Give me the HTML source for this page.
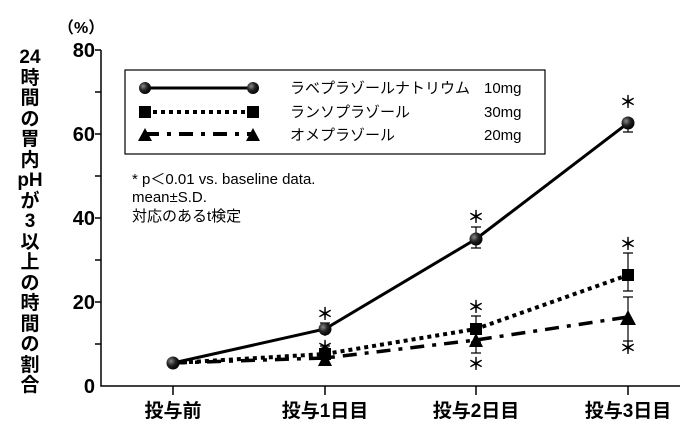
<!DOCTYPE html>
<html><head><meta charset="utf-8"><style>
body{margin:0;background:#fff;}
svg text{font-family:"Liberation Sans","Noto Sans CJK JP",sans-serif;font-weight:bold;fill:#000}
</style></head><body>
<svg width="691" height="432" viewBox="0 0 691 432" xmlns="http://www.w3.org/2000/svg">
<defs>
<radialGradient id="g" cx="0.35" cy="0.35" r="0.7"><stop offset="0" stop-color="#888"/><stop offset="0.5" stop-color="#222"/><stop offset="1" stop-color="#000"/></radialGradient>
</defs>
<g font-size="19" text-anchor="middle">
<text x="30" y="63">24</text><text x="30" y="84">時</text><text x="30" y="104">間</text><text x="30" y="125">の</text><text x="30" y="145">胃</text><text x="30" y="166">内</text><text x="30" y="186">pH</text><text x="30" y="207">が</text><text x="30" y="227">3</text><text x="30" y="248">以</text><text x="30" y="268">上</text><text x="30" y="289">の</text><text x="30" y="309">時</text><text x="30" y="330">間</text><text x="30" y="350">の</text><text x="30" y="371">割</text><text x="30" y="391">合</text>
</g>
<text x="58" y="33" font-size="16">（%）</text>
<g font-size="20" text-anchor="end">
<text x="95" y="57">80</text><text x="95" y="141">60</text><text x="95" y="225">40</text><text x="95" y="309">20</text><text x="95" y="393">0</text>
</g>
<g stroke="#000" stroke-width="1.5" fill="none">
<path d="M101,50V386H680"/>
<path d="M101,50h-6M101,92h-6M101,134h-6M101,176h-6M101,218h-6M101,260h-6M101,302h-6M101,344h-6"/>
<path d="M173,386v9M325,386v9M476,386v9M628,386v9"/>
</g>
<g font-size="19" text-anchor="middle">
<text x="173" y="417">投与前</text><text x="325" y="417">投与1日目</text><text x="476" y="417">投与2日目</text><text x="628" y="417">投与3日目</text>
</g>
<rect x="125" y="70" width="420" height="84" fill="none" stroke="#000" stroke-width="1.2"/>
<line x1="145" y1="88" x2="253" y2="88" stroke="#000" stroke-width="3"/>
<circle cx="145" cy="88" r="6" fill="url(#g)"/><circle cx="253" cy="88" r="6" fill="url(#g)"/>
<line x1="145" y1="112" x2="253" y2="112" stroke="#000" stroke-width="4" stroke-dasharray="4,4"/>
<rect x="139" y="106" width="12" height="12"/><rect x="247" y="106" width="12" height="12"/>
<line x1="145" y1="134" x2="253" y2="134" stroke="#000" stroke-width="4" stroke-dasharray="14,8,4,8"/>
<path d="M138,141l7,-13l7,13z M246,141l7,-13l7,13z"/>
<g font-size="15">
<text x="290" y="93" style="font-weight:normal">ラベプラゾールナトリウム</text>
<text x="290" y="117" style="font-weight:normal">ランソプラゾール</text>
<text x="290" y="140" style="font-weight:normal">オメプラゾール</text>
<text x="484" y="93" style="font-weight:normal">10mg</text>
<text x="484" y="117" style="font-weight:normal">30mg</text>
<text x="484" y="140" style="font-weight:normal">20mg</text>
</g>
<g font-size="15">
<text x="132" y="184" style="font-weight:normal">* p＜0.01 vs. baseline data.</text>
<text x="132" y="202" style="font-weight:normal">mean±S.D.</text>
<text x="132" y="221" style="font-weight:normal">対応のあるt検定</text>
</g>
<g stroke="#000" stroke-width="1.2">
<path d="M325,336v-13m-5,0h10M476,248v-21m-5,0h10m-5,21M471,248h10M628,132v-13m-5,0h10m-5,13M623,132h10"/>
<path d="M325,355v-9m-5,0h10M476,328v-12m-5,0h10m-5,12v14m-5,0h10M628,275v-22m-5,0h10m-5,22v16m-5,0h10"/>
<path d="M628,317v-20m-5,0h10m-5,20v24m-5,0h10M476,340v13m-5,0h10"/>
</g>
<polyline points="173,363 325,358 476,340 628,317" fill="none" stroke="#000" stroke-width="3.5" stroke-dasharray="14,8,4,8"/>
<polyline points="173,363 325,354 476,329 628,275" fill="none" stroke="#000" stroke-width="4" stroke-dasharray="4,4"/>
<polyline points="173,363 325,329 476,239 628,123" fill="none" stroke="#000" stroke-width="3"/>
<path d="M318,366l7,-14l7,14zM469,347l7,-14l7,14zM620,325l8,-15l8,15z"/>
<rect x="319" y="348" width="12" height="12"/><rect x="470" y="323" width="12" height="12"/><rect x="622" y="269" width="12" height="12"/>
<circle cx="173" cy="363" r="6.5" fill="url(#g)"/><circle cx="325" cy="329" r="6.5" fill="url(#g)"/><circle cx="476" cy="239" r="6.5" fill="url(#g)"/><circle cx="628" cy="123" r="6.5" fill="url(#g)"/>
<g font-size="17" text-anchor="middle">
<text x="325" y="320">＊</text><text x="325" y="353">＊</text><text x="476" y="223">＊</text><text x="476" y="313">＊</text><text x="476" y="370">＊</text><text x="628" y="108">＊</text><text x="628" y="250">＊</text><text x="628" y="354">＊</text>
</g>
</svg>
</body></html>
